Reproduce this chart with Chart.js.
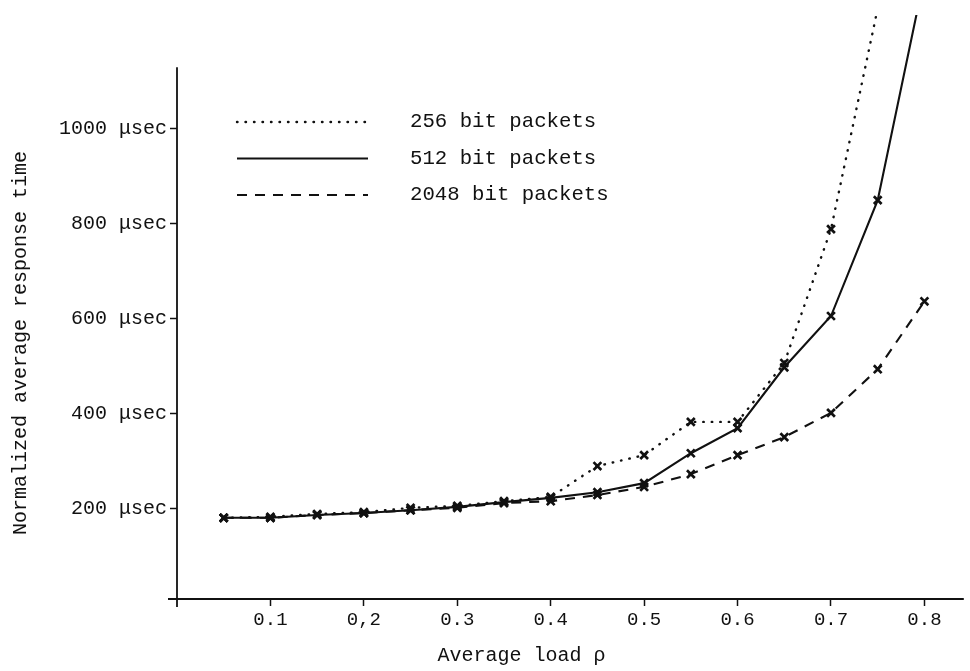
<!DOCTYPE html>
<html>
<head>
<meta charset="utf-8">
<script src="https://cdn.jsdelivr.net/npm/chart.js@4/dist/chart.umd.min.js"></script>
<style>
html,body{margin:0;padding:0;background:#fff;}
canvas{display:block;}
</style>
</head>
<body>
<canvas id="c" width="970" height="671"></canvas>
<script>
// ---- data ----
const loads = [0.05, 0.10, 0.15, 0.20, 0.25, 0.30, 0.35, 0.40, 0.45, 0.50, 0.55, 0.60, 0.65, 0.70, 0.75, 0.80];
const packets256  = [181, 183, 189, 193, 202, 206, 216, 225, 290, 313, 383, 383, 507, 789, 1254, null];
const packets512  = [181, 181, 187, 191, 197, 204, 214, 223, 235, 254, 317, 370, 498, 606, 850, 1321];
const packets2048 = [181, 181, 187, 191, 197, 202, 212, 216, 229, 246, 273, 313, 351, 402, 494, 637];
const seriesLabels = ["256 bit packets", "512 bit packets", "2048 bit packets"];
const xTickValues = [0.1, 0.2, 0.3, 0.4, 0.5, 0.6, 0.7, 0.8];
const xTickLabels = ["0.1", "0,2", "0.3", "0.4", "0.5", "0.6", "0.7", "0.8"];
const yTickValues = [200, 400, 600, 800, 1000];
const yTickLabels = ["200 μsec", "400 μsec", "600 μsec", "800 μsec", "1000 μsec"];
const xTitle = "Average load ρ";
const yTitle = "Normalized average response time";

const INK = '#111';
const FONT = '"Liberation Mono", "DejaVu Sans Mono", monospace';
const Y_MIN = 10, Y_MAX = 1240, X_MIN = 0, X_MAX = 0.84;

function pts(arr){ return loads.map((x,i)=>({x:x, y:arr[i]})); }
function radiusFor(ctx){ const v = ctx.raw && ctx.raw.y; return (v == null || v > Y_MAX) ? 0 : 5.5; }

const axisLines = {
  id: 'axisLines',
  beforeDatasetsDraw(chart){
    const {ctx, scales:{x, y}} = chart;
    const x0 = x.getPixelForValue(0), yb = y.getPixelForValue(Y_MIN);
    ctx.save();
    ctx.strokeStyle = INK; ctx.lineWidth = 1.8;
    ctx.beginPath();
    ctx.moveTo(x0, y.getPixelForValue(1130)); ctx.lineTo(x0, yb + 8);
    ctx.moveTo(x0 - 9, yb); ctx.lineTo(x.right + 2, yb);
    ctx.stroke();
    ctx.restore();
  }
};

const paperLegend = {
  id: 'paperLegend',
  afterDraw(chart){
    const ctx = chart.ctx;
    chart.data.datasets.forEach((ds, i) => {
      const yy = 122 + i * 36.5;
      ctx.save();
      ctx.strokeStyle = ds.borderColor;
      ctx.lineWidth = ds.borderWidth;
      ctx.lineCap = ds.borderCapStyle || 'butt';
      ctx.setLineDash(ds.borderDash || []);
      ctx.beginPath(); ctx.moveTo(237, yy); ctx.lineTo(368, yy); ctx.stroke();
      ctx.setLineDash([]);
      ctx.fillStyle = INK;
      ctx.font = '20.7px ' + FONT;
      ctx.textAlign = 'left'; ctx.textBaseline = 'middle';
      ctx.fillText(ds.label, 410, yy);
      ctx.restore();
    });
  }
};

const common = {
  borderColor: INK, backgroundColor: INK, fill: false, tension: 0,
  pointStyle: 'crossRot', pointBorderColor: INK, pointBackgroundColor: INK,
  pointBorderWidth: 2.7, pointRadius: radiusFor, pointHoverRadius: radiusFor
};

new Chart(document.getElementById('c'), {
  type: 'line',
  data: {
    datasets: [
      Object.assign({}, common, {label: seriesLabels[0], data: pts(packets256), borderWidth: 2.4, borderDash: [0.5, 8], borderCapStyle: 'round', spanGaps: false}),
      Object.assign({}, common, {label: seriesLabels[1], data: pts(packets512), borderWidth: 2.1}),
      Object.assign({}, common, {label: seriesLabels[2], data: pts(packets2048), borderWidth: 2.1, borderDash: [10, 8]})
    ]
  },
  options: {
    responsive: false, animation: false, devicePixelRatio: 1,
    layout: {padding: {left: 0, right: 7, top: 0, bottom: 0}},
    plugins: {legend: {display: false}, tooltip: {enabled: false}},
    scales: {
      x: {
        type: 'linear', min: X_MIN, max: X_MAX,
        afterBuildTicks: s => { s.ticks = xTickValues.map(v => ({value: v})); },
        afterFit: s => { s.height = 72; },
        border: {display: false},
        grid: {drawOnChartArea: false, drawTicks: true, tickLength: 7, tickWidth: 1.5, tickColor: INK},
        ticks: {color: INK, font: {family: FONT, size: 19}, padding: 3, maxRotation: 0, autoSkip: false,
                callback: (v, i) => xTickLabels[i]},
        title: {display: true, text: xTitle + '        ', color: INK, font: {family: FONT, size: 20}, padding: {top: 0, bottom: 3}}
      },
      y: {
        type: 'linear', min: Y_MIN, max: Y_MAX,
        afterBuildTicks: s => { s.ticks = yTickValues.map(v => ({value: v})); },
        afterFit: s => { s.width = 177; },
        border: {display: false},
        grid: {drawOnChartArea: false, drawTicks: true, tickLength: 7, tickWidth: 1.5, tickColor: INK},
        ticks: {color: INK, font: {family: FONT, size: 20}, padding: 3, autoSkip: false,
                callback: (v, i) => yTickLabels[i]},
        title: {display: true, text: yTitle + '      ', color: INK, font: {family: FONT, size: 20}, padding: {top: 9, bottom: 0}}
      }
    }
  },
  plugins: [axisLines, paperLegend]
});
</script>
</body>
</html>
